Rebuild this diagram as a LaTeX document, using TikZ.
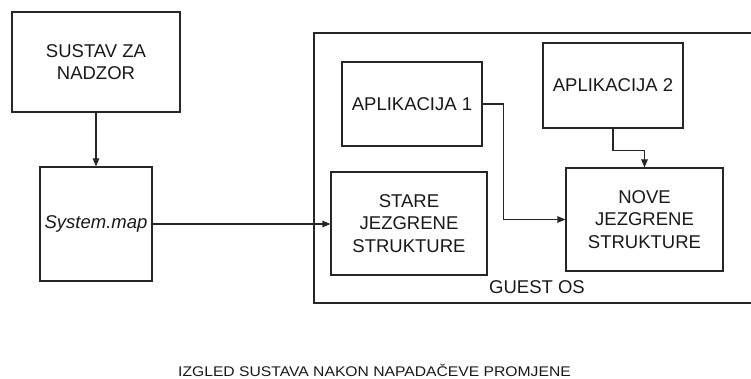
\documentclass[tikz,border=0pt]{standalone}
\usepackage{fontspec}
\setmainfont{Liberation Sans}
\usetikzlibrary{arrows.meta}

\tikzset{
  blk/.style={draw=black!85, line width=1.1pt, inner sep=0pt, align=center,
              font=\fontsize{18.5}{22.5}\selectfont, text=black!90},
  conn/.style={draw=black!85, line width=1.1pt,
               -{Triangle[length=8pt,width=6.5pt]}},
}

\begin{document}
\begin{tikzpicture}[x=1pt,y=-1pt]
  \useasboundingbox (0,0) rectangle (751,379);
  \clip (0,0) rectangle (751,379);

  % guest operating system frame (runs past the right edge)
  \node[blk, minimum width=446pt, minimum height=270pt] (guest) at (537,168) {};
  \node[font=\fontsize{18.5}{22.5}\selectfont, text=black!90] (guestlbl) at (537,287) {GUEST OS};

  % monitoring side
  \node[blk, minimum width=168pt, minimum height=100pt] (sustav) at (96,62) {SUSTAV ZA\\NADZOR};
  \node[blk, minimum width=112pt, minimum height=114pt] (sysmap) at (96,224) {\itshape System.map};

  % inside the guest
  \node[blk, minimum width=140pt, minimum height=84pt] (app1) at (412,104) {APLIKACIJA 1};
  \node[blk, minimum width=140pt, minimum height=85pt] (app2) at (613,85.5) {APLIKACIJA 2};
  \node[blk, minimum width=156pt, minimum height=103pt] (stare) at (409,223.5) {STARE\\JEZGRENE\\STRUKTURE};
  \node[blk, minimum width=157pt, minimum height=103pt] (nove) at (644.5,219.5) {NOVE\\JEZGRENE\\STRUKTURE};

  % connectors
  \draw[conn] (sustav.south) -- (sysmap.north);
  \draw[conn] (sysmap.east) -- (stare.west |- sysmap.east);
  \draw[conn] (app1.east) -- ++(21,0) |- (nove.west);
  \draw[conn] (app2.south) -- ++(0,22) -| (nove.north);

  % caption, set slightly wide, sitting on its baseline
  \node[font=\fontsize{14}{16}\selectfont, text=black!90, xscale=1.12,
        inner sep=0pt, anchor=base] (caption) at (374.5,376.5)
    {IZGLED SUSTAVA NAKON NAPADAČEVE PROMJENE};
\end{tikzpicture}
\end{document}
